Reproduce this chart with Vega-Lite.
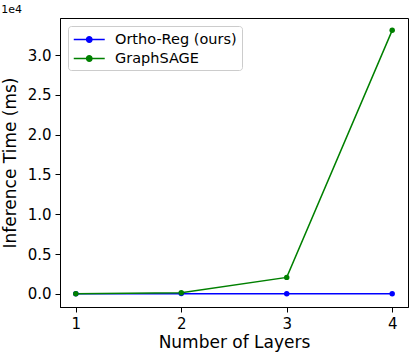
{
  "$schema": "https://vega.github.io/schema/vega-lite/v6.json",
  "width": 348,
  "height": 289,
  "autosize": {"type": "none"},
  "padding": {"left": 60, "top": 18, "right": 7, "bottom": 49},
  "background": "white",
  "title": {"text": "1e4", "anchor": "start", "font": "DejaVu Sans", "fontSize": 11, "fontWeight": "normal", "color": "black", "offset": 3, "dx": 0},
  "config": {
    "view": {"stroke": "black", "strokeWidth": 1},
    "axis": {"labelFont": "DejaVu Sans", "titleFont": "DejaVu Sans", "labelColor": "black", "titleColor": "black", "domainColor": "black", "tickColor": "black", "grid": false, "titleFontWeight": "normal", "labelFontSize": 15, "titleFontSize": 17, "tickSize": 5, "labelPadding": 4}
  },
  "data": {"values": [
    {"layers": 1, "time": 20, "method": "Ortho-Reg (ours)"},
    {"layers": 2, "time": 30, "method": "Ortho-Reg (ours)"},
    {"layers": 3, "time": 20, "method": "Ortho-Reg (ours)"},
    {"layers": 4, "time": 20, "method": "Ortho-Reg (ours)"},
    {"layers": 1, "time": 20, "method": "GraphSAGE"},
    {"layers": 2, "time": 130, "method": "GraphSAGE"},
    {"layers": 3, "time": 2070, "method": "GraphSAGE"},
    {"layers": 4, "time": 33100, "method": "GraphSAGE"}
  ]},
  "encoding": {
    "x": {"field": "layers", "type": "quantitative", "title": "Number of Layers", "scale": {"domain": [0.85, 4.15], "nice": false, "zero": false}, "axis": {"values": [1, 2, 3, 4], "format": "d", "titlePadding": 3}},
    "y": {"field": "time", "type": "quantitative", "title": "Inference Time (ms)", "scale": {"domain": [-1650, 34650], "nice": false, "zero": false}, "axis": {"values": [0, 5000, 10000, 15000, 20000, 25000, 30000], "labelExpr": "format(datum.value/10000, '.1f')", "titlePadding": 8}},
    "color": {"field": "method", "type": "nominal", "scale": {"domain": ["Ortho-Reg (ours)", "GraphSAGE"], "range": ["#0000ff", "#008000"]},
      "legend": {"title": null, "orient": "top-left", "offset": 8, "labelFont": "DejaVu Sans", "labelFontSize": 14.5, "labelColor": "black", "strokeColor": "#cccccc", "fillColor": "white", "padding": 5, "cornerRadius": 3, "symbolType": "M-1,0H3M0.66,0A0.34,0.34 0 1,0 1.34,0A0.34,0.34 0 1,0 0.66,0", "symbolSize": 240, "symbolStrokeWidth": 1.5, "rowPadding": 4, "labelOffset": 25}}
  },
  "layer": [
    {"mark": {"type": "line", "strokeWidth": 1.5}},
    {"mark": {"type": "point", "filled": true, "size": 30, "opacity": 1}}
  ]
}
